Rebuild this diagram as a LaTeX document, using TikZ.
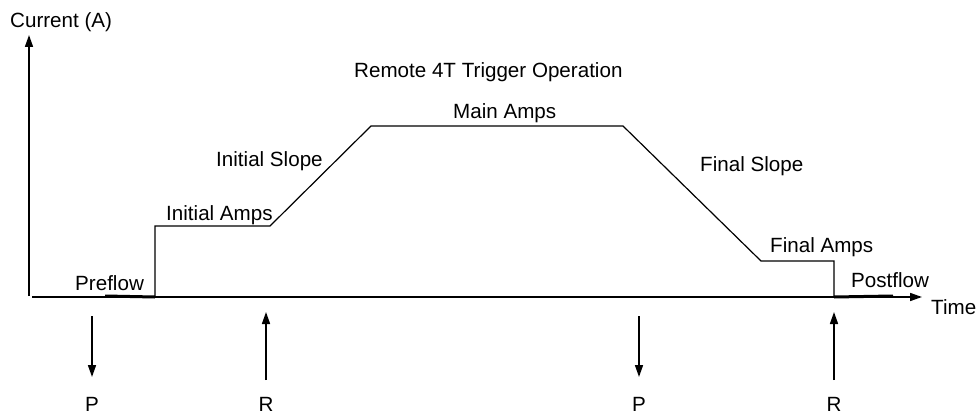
\documentclass[tikz,border=0pt]{standalone}
\usepackage{fontspec}
\setmainfont{Liberation Sans}
\usetikzlibrary{arrows.meta}
\begin{document}
\begin{tikzpicture}[x=1pt,y=-1pt,
  lbl/.style={inner sep=0pt,font=\fontsize{20.6pt}{24pt}\selectfont},
  axis/.style={line width=1.6pt,-{Triangle[length=12pt,width=8pt]}},
  wave/.style={line width=1.2pt,line join=miter},
  gas/.style={line width=3pt},
  trig/.style={line width=1.6pt,-{Triangle[length=12pt,width=8pt]}}]
\useasboundingbox (0,0) rectangle (976,414);
% axes
\coordinate (ybot) at (29,296);
\coordinate (ytop) at (29,35);
\coordinate (xleft) at (32,297);
\coordinate (xright) at (922,297);
\draw[axis] (ybot) -- (ytop);
\draw[axis] (xleft) -- (xright);
% waveform
\coordinate (w0) at (155,297);
\coordinate (w1) at (155,226);
\coordinate (w2) at (270,226);
\coordinate (w3) at (371,126);
\coordinate (w4) at (623,126);
\coordinate (w5) at (761,261);
\coordinate (w6) at (834,261);
\coordinate (w7) at (834,297);
\draw[wave] (w0) -- (w1) -- (w2) -- (w3) -- (w4) -- (w5) -- (w6) -- (w7);
% preflow / postflow
\coordinate (pre0) at (105,296);
\coordinate (post1) at (893,296);
\draw[gas] (pre0) -- (w0);
\draw[gas] (w7) -- (post1);
% triggers
\coordinate (p1a) at (92,316);  \coordinate (p1b) at (92,377);
\coordinate (r1a) at (266,380); \coordinate (r1b) at (266,312);
\coordinate (p2a) at (639,316); \coordinate (p2b) at (639,377);
\coordinate (r2a) at (834,380); \coordinate (r2b) at (834,312);
\draw[trig] (p1a) -- (p1b);
\draw[trig] (r1a) -- (r1b);
\draw[trig] (p2a) -- (p2b);
\draw[trig] (r2a) -- (r2b);
% labels
\node[lbl,anchor=base west] (cur) at (10,27.5) {Current (A)};
\node[lbl,anchor=base west] (title) at (354,77.3) {Remote 4T Trigger Operation};
\node[lbl,anchor=base west] (main) at (453,118.3) {Main Amps};
\node[lbl,anchor=base west] (islope) at (216,166.7) {Initial Slope};
\node[lbl,anchor=base west] (iamps) at (166,220.7) {Initial Amps};
\node[lbl,anchor=base west] (pref) at (75,290.7) {Preflow};
\node[lbl,anchor=base west] (fslope) at (700,171.7) {Final Slope};
\node[lbl,anchor=base west] (famps) at (770,252.7) {Final Amps};
\node[lbl,anchor=base west] (postf) at (851,287.7) {Postflow};
\node[lbl,anchor=base west] (time) at (931,314.3) {Time};
\node[lbl,anchor=base] (P1) at (92,411.5) {P};
\node[lbl,anchor=base] (R1) at (266,411.5) {R};
\node[lbl,anchor=base] (P2) at (639,411.5) {P};
\node[lbl,anchor=base] (R2) at (834,411.5) {R};
\end{tikzpicture}
\end{document}
